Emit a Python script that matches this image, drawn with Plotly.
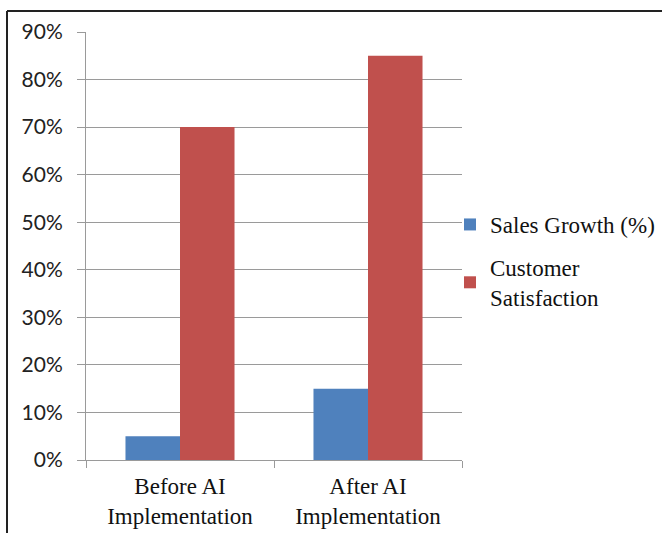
import plotly.graph_objects as go

categories = ["Before AI<br>Implementation", "After AI<br>Implementation"]
sales_growth = [0.05, 0.15]
customer_satisfaction = [0.70, 0.85]
series_names = ["Sales Growth (%)", "Customer<br>Satisfaction"]
colors = ["#4F81BD", "#C0504D"]

W, H = 662, 533
L, R, T, B = 86, 200, 32, 73
pw = W - L - R
ph = H - T - B

def px_x(x):
    return (x - L) / pw

def px_y(y):
    return (H - B - y) / ph

fig = go.Figure()
fig.add_trace(go.Bar(x=categories, y=sales_growth, name=series_names[0],
                     marker=dict(color=colors[0], line=dict(width=0)),
                     legendgroup="a"))
fig.add_trace(go.Bar(x=categories, y=customer_satisfaction, name=series_names[1],
                     marker=dict(color=colors[1], line=dict(width=0)),
                     legendgroup="b"))

grid = "#9a9a9a"
fig.update_layout(
    width=W, height=H,
    margin=dict(l=L, r=R, t=T, b=B, pad=0, autoexpand=False),
    paper_bgcolor="white", plot_bgcolor="white",
    barmode="group", bargap=0.42, bargroupgap=0,
    showlegend=True,
    legend=dict(x=px_x(450), xanchor="left", y=px_y(261), yanchor="middle",
                font=dict(family="Liberation Serif", size=23, color="#111"),
                traceorder="grouped", tracegroupgap=10,
                bgcolor="rgba(0,0,0,0)", borderwidth=0),
    xaxis=dict(showline=True, linecolor=grid, linewidth=1,
               ticks="outside", tickson="boundaries", ticklen=7, tickcolor=grid,
               ticklabelstandoff=5, automargin=False,
               tickfont=dict(family="Liberation Serif", size=23, color="#111"),
               showgrid=False, zeroline=False, fixedrange=True),
    yaxis=dict(range=[0, 0.9], dtick=0.1, tick0=0, tickformat=".0%",
               showline=True, linecolor=grid, linewidth=1,
               ticks="outside", ticklen=8, tickcolor=grid,
               ticklabelstandoff=10, automargin=False,
               showgrid=True, gridcolor=grid, gridwidth=1,
               zeroline=False,
               tickfont=dict(family="Lato", size=21, color="#222"),
               fixedrange=True),
    shapes=[
        dict(type="line", xref="paper", yref="paper",
             x0=px_x(7), x1=px_x(680), y0=px_y(11), y1=px_y(11),
             line=dict(color="#222", width=2)),
        dict(type="line", xref="paper", yref="paper",
             x0=px_x(7), x1=px_x(7), y0=px_y(11), y1=px_y(540),
             line=dict(color="#222", width=2)),
    ],
)

fig.write_html("out.html")
